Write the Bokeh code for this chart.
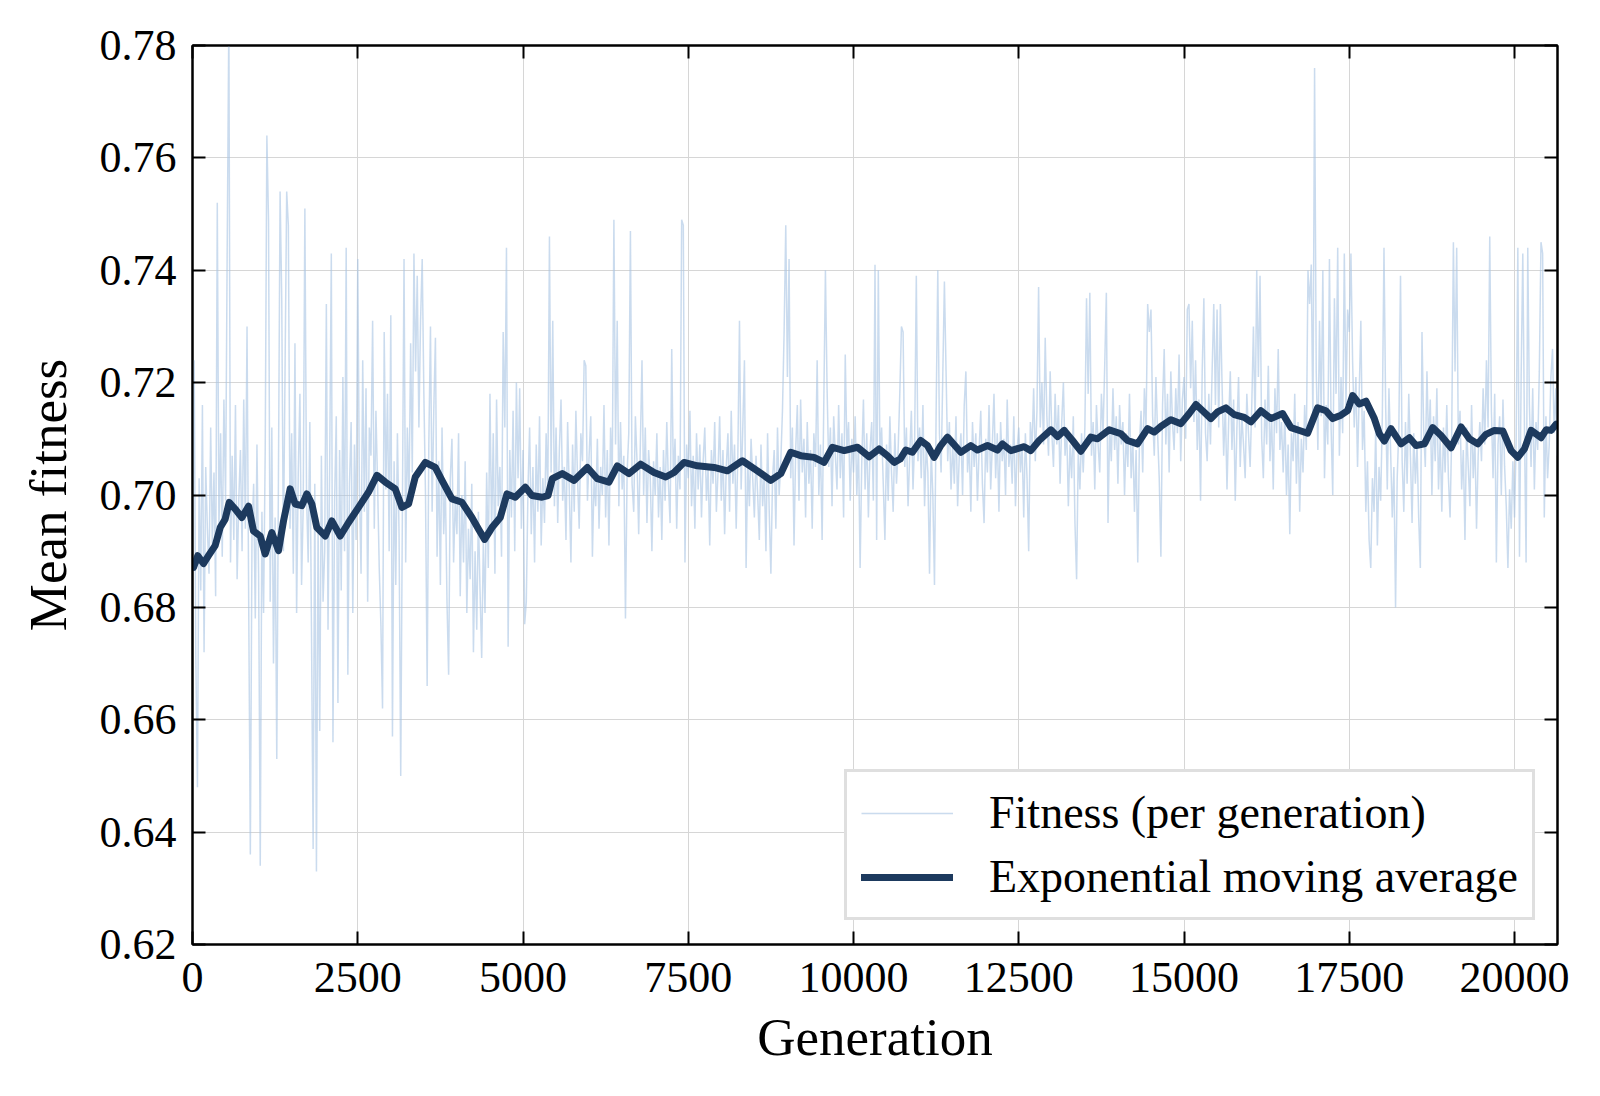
from bokeh.plotting import figure
from bokeh.models import (ColumnDataSource, FixedTicker, LinearAxis, Legend,
                          LegendItem, Range1d, CustomJSTickFormatter)
from bokeh.embed import file_html
from bokeh.resources import INLINE

# Mean fitness per generation, sampled every 25 generations (rows of 500 generations)
GEN_STEP = 25
fitness = [
    0.690, 0.724, 0.671, 0.648, 0.703, 0.683, 0.716, 0.672, 0.705, 0.694, 0.686, 0.712, 0.691, 0.704, 0.682, 0.752, 0.694, 0.711, 0.689, 0.717,
    0.699, 0.744, 0.785, 0.688, 0.707, 0.692, 0.716, 0.685, 0.699, 0.708, 0.690, 0.717, 0.694, 0.730, 0.681, 0.636, 0.693, 0.702, 0.678, 0.709,
    0.686, 0.634, 0.697, 0.679, 0.708, 0.764, 0.749, 0.681, 0.712, 0.670, 0.696, 0.653, 0.703, 0.754, 0.735, 0.690, 0.722, 0.754, 0.748, 0.694,
    0.711, 0.686, 0.727, 0.679, 0.704, 0.718, 0.684, 0.698, 0.751, 0.700, 0.688, 0.713, 0.676, 0.637, 0.702, 0.633, 0.695, 0.658, 0.707, 0.681,
    0.690, 0.734, 0.676, 0.705, 0.743, 0.656, 0.699, 0.714, 0.663, 0.708, 0.683, 0.721, 0.690, 0.744, 0.668, 0.702, 0.713, 0.679, 0.709, 0.692,
    0.742, 0.701, 0.686, 0.724, 0.697, 0.719, 0.681, 0.712, 0.707, 0.731, 0.694, 0.715, 0.702, 0.687, 0.677, 0.662, 0.729, 0.701, 0.718, 0.690,
    0.732, 0.657, 0.706, 0.684, 0.711, 0.693, 0.650, 0.697, 0.742, 0.688, 0.712, 0.699, 0.727, 0.704, 0.743, 0.722, 0.739, 0.712, 0.731, 0.742,
    0.718, 0.700, 0.666, 0.709, 0.730, 0.697, 0.715, 0.728, 0.689, 0.706, 0.684, 0.712, 0.693, 0.702, 0.681, 0.668, 0.703, 0.710, 0.688, 0.699,
    0.693, 0.711, 0.682, 0.700, 0.688, 0.706, 0.679, 0.694, 0.685, 0.702, 0.672, 0.690, 0.676, 0.697, 0.683, 0.671, 0.692, 0.679, 0.704, 0.687,
    0.718, 0.693, 0.711, 0.686, 0.717, 0.698, 0.705, 0.689, 0.729, 0.712, 0.744, 0.673, 0.708, 0.696, 0.715, 0.690, 0.720, 0.703, 0.719, 0.694,
    0.708, 0.677, 0.681, 0.701, 0.712, 0.693, 0.705, 0.688, 0.709, 0.697, 0.714, 0.691, 0.703, 0.695, 0.711, 0.700, 0.746, 0.704, 0.731, 0.698,
    0.712, 0.695, 0.708, 0.717, 0.699, 0.705, 0.692, 0.713, 0.701, 0.688, 0.709, 0.697, 0.715, 0.703, 0.694, 0.711, 0.706, 0.724, 0.723, 0.699,
    0.707, 0.714, 0.689, 0.703, 0.698, 0.710, 0.694, 0.705, 0.700, 0.716, 0.696, 0.708, 0.691, 0.712, 0.703, 0.749, 0.709, 0.731, 0.698, 0.713,
    0.701, 0.707, 0.678, 0.704, 0.711, 0.747, 0.702, 0.697, 0.714, 0.706, 0.693, 0.709, 0.724, 0.700, 0.712, 0.695, 0.708, 0.703, 0.690, 0.706,
    0.700, 0.711, 0.696, 0.705, 0.692, 0.708, 0.699, 0.713, 0.702, 0.695, 0.726, 0.703, 0.710, 0.694, 0.707, 0.701, 0.749, 0.748, 0.688, 0.709,
    0.703, 0.715, 0.698, 0.707, 0.694, 0.711, 0.701, 0.709, 0.696, 0.706, 0.712, 0.699, 0.705, 0.691, 0.708, 0.702, 0.713, 0.697, 0.704, 0.714,
    0.699, 0.708, 0.693, 0.705, 0.711, 0.697, 0.715, 0.702, 0.709, 0.694, 0.707, 0.731, 0.701, 0.712, 0.724, 0.687, 0.706, 0.698, 0.710, 0.703,
    0.696, 0.707, 0.700, 0.692, 0.709, 0.698, 0.704, 0.690, 0.711, 0.697, 0.686, 0.703, 0.708, 0.694, 0.712, 0.700, 0.706, 0.715, 0.729, 0.748,
    0.721, 0.742, 0.703, 0.712, 0.691, 0.708, 0.716, 0.699, 0.717, 0.704, 0.710, 0.696, 0.713, 0.702, 0.708, 0.694, 0.711, 0.705, 0.724, 0.700,
    0.709, 0.692, 0.716, 0.740, 0.719, 0.705, 0.712, 0.698, 0.714, 0.707, 0.701, 0.716, 0.703, 0.711, 0.696, 0.725, 0.708, 0.713, 0.699, 0.710,
    0.704, 0.714, 0.700, 0.709, 0.687, 0.706, 0.717, 0.701, 0.711, 0.696, 0.708, 0.713, 0.699, 0.741, 0.692, 0.740, 0.707, 0.712, 0.702, 0.692,
    0.709, 0.699, 0.714, 0.704, 0.697, 0.711, 0.702, 0.708, 0.718, 0.730, 0.729, 0.705, 0.712, 0.698, 0.707, 0.715, 0.701, 0.710, 0.739, 0.706,
    0.712, 0.703, 0.716, 0.698, 0.709, 0.704, 0.686, 0.708, 0.700, 0.684, 0.715, 0.740, 0.711, 0.704, 0.721, 0.738, 0.722, 0.706, 0.713, 0.701,
    0.709, 0.702, 0.714, 0.698, 0.707, 0.711, 0.700, 0.716, 0.722, 0.704, 0.709, 0.697, 0.713, 0.705, 0.711, 0.699, 0.708, 0.715, 0.702, 0.695,
    0.710, 0.704, 0.716, 0.701, 0.709, 0.718, 0.703, 0.711, 0.697, 0.713, 0.706, 0.710, 0.700, 0.717, 0.705, 0.709, 0.702, 0.714, 0.698, 0.708,
    0.712, 0.704, 0.709, 0.696, 0.711, 0.703, 0.690, 0.713, 0.708, 0.719, 0.706, 0.715, 0.737, 0.712, 0.720, 0.709, 0.728, 0.714, 0.707, 0.722,
    0.711, 0.705, 0.718, 0.709, 0.716, 0.702, 0.713, 0.720, 0.707, 0.712, 0.698, 0.709, 0.703, 0.714, 0.695, 0.685, 0.708, 0.701, 0.711, 0.704,
    0.712, 0.735, 0.718, 0.736, 0.707, 0.713, 0.701, 0.716, 0.709, 0.704, 0.718, 0.711, 0.723, 0.736, 0.695, 0.712, 0.706, 0.719, 0.708, 0.714,
    0.702, 0.716, 0.709, 0.713, 0.700, 0.711, 0.705, 0.718, 0.703, 0.710, 0.697, 0.708, 0.688, 0.709, 0.715, 0.704, 0.719, 0.712, 0.734, 0.729,
    0.733, 0.714, 0.707, 0.721, 0.711, 0.703, 0.689, 0.716, 0.726, 0.709, 0.718, 0.704, 0.722, 0.713, 0.708, 0.719, 0.711, 0.725, 0.706, 0.717,
    0.721, 0.710, 0.733, 0.734, 0.719, 0.731, 0.713, 0.724, 0.708, 0.717, 0.699, 0.722, 0.735, 0.711, 0.706, 0.718, 0.709, 0.722, 0.734, 0.716,
    0.733, 0.712, 0.734, 0.720, 0.707, 0.716, 0.701, 0.713, 0.722, 0.708, 0.717, 0.699, 0.712, 0.721, 0.705, 0.714, 0.709, 0.703, 0.718, 0.711,
    0.705, 0.716, 0.730, 0.712, 0.740, 0.721, 0.739, 0.710, 0.703, 0.717, 0.709, 0.723, 0.706, 0.714, 0.701, 0.719, 0.711, 0.726, 0.708, 0.713,
    0.704, 0.715, 0.700, 0.709, 0.693, 0.711, 0.706, 0.718, 0.702, 0.713, 0.697, 0.710, 0.704, 0.716, 0.708, 0.740, 0.734, 0.741, 0.712, 0.776,
    0.722, 0.708, 0.731, 0.714, 0.740, 0.703, 0.716, 0.709, 0.742, 0.712, 0.700, 0.735, 0.718, 0.744, 0.707, 0.721, 0.711, 0.743, 0.716, 0.733,
    0.729, 0.743, 0.724, 0.712, 0.721, 0.705, 0.718, 0.731, 0.708, 0.715, 0.697, 0.706, 0.692, 0.687, 0.703, 0.697, 0.712, 0.691, 0.705, 0.699,
    0.714, 0.744, 0.716, 0.701, 0.719, 0.708, 0.696, 0.705, 0.680, 0.703, 0.712, 0.739, 0.706, 0.697, 0.713, 0.702, 0.718, 0.707, 0.695, 0.711,
    0.702, 0.709, 0.696, 0.687, 0.729, 0.712, 0.705, 0.722, 0.709, 0.717, 0.700, 0.714, 0.706, 0.719, 0.701, 0.710, 0.697, 0.712, 0.704, 0.716,
    0.703, 0.696, 0.711, 0.745, 0.722, 0.744, 0.709, 0.715, 0.701, 0.708, 0.692, 0.712, 0.705, 0.698, 0.716, 0.703, 0.710, 0.694, 0.707, 0.713,
    0.706, 0.719, 0.709, 0.724, 0.712, 0.746, 0.715, 0.703, 0.718, 0.688, 0.709, 0.714, 0.700, 0.717, 0.705, 0.698, 0.687, 0.701, 0.694, 0.706,
    0.696, 0.710, 0.744, 0.689, 0.721, 0.743, 0.712, 0.688, 0.744, 0.716, 0.705, 0.719, 0.701, 0.713, 0.708, 0.722, 0.745, 0.743, 0.696, 0.714,
    0.703, 0.709, 0.721, 0.726, 0.711, 0.719, 0.707,
]
generation = [i * GEN_STEP for i in range(len(fitness))]

# Exponential moving average of the fitness
ema_generation = [
    15, 80, 166, 242, 343, 419, 494, 555, 646, 747, 848, 923, 1024, 1100, 1200, 1301, 1377, 1478,
    1553, 1654, 1730, 1806, 1881, 2008, 2108, 2235, 2361, 2512, 2663, 2790, 2916, 3067, 3168, 3269,
    3370, 3521, 3673, 3774, 3925, 4076, 4227, 4328, 4419, 4530, 4656, 4757, 4883, 5035, 5136, 5287,
    5378, 5444, 5594, 5771, 5973, 6124, 6300, 6427, 6603, 6780, 6982, 7159, 7285, 7436, 7638, 7890,
    8092, 8319, 8546, 8748, 8899, 9050, 9202, 9403, 9555, 9681, 9858, 10060, 10236, 10387, 10514,
    10615, 10706, 10790, 10891, 11017, 11118, 11219, 11320, 11421, 11623, 11774, 11875, 12027, 12178,
    12253, 12380, 12581, 12682, 12808, 12985, 13086, 13187, 13313, 13439, 13591, 13691, 13868, 14045,
    14146, 14297, 14448, 14549, 14650, 14802, 14953, 15079, 15180, 15281, 15407, 15507, 15634, 15760,
    15911, 16012, 16163, 16315, 16491, 16617, 16769, 16870, 17021, 17147, 17248, 17374, 17475, 17551,
    17652, 17753, 17879, 17955, 18030, 18131, 18283, 18409, 18510, 18636, 18762, 18888, 19040, 19191,
    19317, 19443, 19569, 19695, 19822, 19948, 20049, 20150, 20251, 20402, 20478, 20553, 20629,
]
ema_fitness = [
    0.6871, 0.6892, 0.6878, 0.6892, 0.6910, 0.6942, 0.6957, 0.6987, 0.6975, 0.6960, 0.6980, 0.6936,
    0.6927, 0.6895, 0.6933, 0.6901, 0.6954, 0.7011, 0.6984, 0.6981, 0.7002, 0.6984, 0.6942, 0.6927,
    0.6954, 0.6927, 0.6951, 0.6978, 0.7005, 0.7035, 0.7023, 0.7011, 0.6978, 0.6984, 0.7032, 0.7058,
    0.7049, 0.7026, 0.6993, 0.6987, 0.6960, 0.6939, 0.6921, 0.6942, 0.6960, 0.7002, 0.6996, 0.7014,
    0.6999, 0.6996, 0.6999, 0.7029, 0.7038, 0.7026, 0.7049, 0.7029, 0.7023, 0.7052, 0.7038, 0.7055,
    0.7040, 0.7032, 0.7040, 0.7058, 0.7052, 0.7049, 0.7043, 0.7061, 0.7043, 0.7026, 0.7038, 0.7076,
    0.7070, 0.7067, 0.7058, 0.7085, 0.7079, 0.7085, 0.7068, 0.7082, 0.7070, 0.7058, 0.7064, 0.7080,
    0.7076, 0.7097, 0.7088, 0.7067, 0.7088, 0.7103, 0.7076, 0.7088, 0.7080, 0.7088, 0.7080, 0.7091,
    0.7079, 0.7086, 0.7079, 0.7097, 0.7116, 0.7104, 0.7115, 0.7097, 0.7078, 0.7103, 0.7100, 0.7116,
    0.7109, 0.7097, 0.7091, 0.7118, 0.7112, 0.7122, 0.7134, 0.7127, 0.7145, 0.7161, 0.7150, 0.7136,
    0.7148, 0.7155, 0.7143, 0.7138, 0.7130, 0.7150, 0.7136, 0.7145, 0.7120, 0.7114, 0.7110, 0.7155,
    0.7150, 0.7136, 0.7142, 0.7150, 0.7177, 0.7162, 0.7167, 0.7136, 0.7109, 0.7096, 0.7118, 0.7091,
    0.7102, 0.7088, 0.7091, 0.7120, 0.7106, 0.7084, 0.7121, 0.7100, 0.7091, 0.7108, 0.7115, 0.7114,
    0.7079, 0.7067, 0.7082, 0.7115, 0.7102, 0.7116, 0.7115, 0.7126,
]

x_ticks = [0, 2500, 5000, 7500, 10000, 12500, 15000, 17500, 20000]
y_ticks = [0.62, 0.64, 0.66, 0.68, 0.70, 0.72, 0.74, 0.76, 0.78]

SERIF = "Liberation Serif"
RAW_COLOR = "#a9c5e3"
EMA_COLOR = "#1d3a5e"

p = figure(
    width=1600, height=1096,
    output_backend="svg", toolbar_location=None,
    x_range=Range1d(0, 20650), y_range=Range1d(0.62, 0.78),
    min_border_left=192, min_border_right=43, min_border_top=45, min_border_bottom=152,
    x_axis_label="Generation", y_axis_label="Mean fitness",
)
p.background_fill_color = "white"
p.border_fill_color = "white"
p.outline_line_color = "black"
p.outline_line_width = 2

bottom_axis = p.below[0]
left_axis = p.left[0]

raw_src = ColumnDataSource(dict(generation=generation, fitness=fitness))
ema_src = ColumnDataSource(dict(generation=ema_generation, fitness=ema_fitness))

r_raw = p.line("generation", "fitness", source=raw_src, line_color=RAW_COLOR,
               line_alpha=0.62, line_width=1.5)
r_ema = p.line("generation", "fitness", source=ema_src, line_color=EMA_COLOR,
               line_width=7, line_join="round", line_cap="round")

bottom_axis.ticker = FixedTicker(ticks=x_ticks)
left_axis.ticker = FixedTicker(ticks=y_ticks)
left_axis.formatter = CustomJSTickFormatter(code="return tick.toFixed(2);")

# mirrored axes on the top and right, ticks only
top_axis = LinearAxis(ticker=FixedTicker(ticks=x_ticks))
right_axis = LinearAxis(ticker=FixedTicker(ticks=y_ticks))
p.add_layout(top_axis, "above")
p.add_layout(right_axis, "right")

for ax in [bottom_axis, left_axis, top_axis, right_axis]:
    ax.axis_line_color = "black"
    ax.axis_line_width = 2
    ax.major_tick_line_color = "black"
    ax.major_tick_line_width = 2
    ax.major_tick_in = 13
    ax.major_tick_out = 0
    ax.minor_tick_line_color = None
    ax.major_label_text_font = SERIF
    ax.major_label_text_font_size = "44px"
    ax.major_label_text_color = "black"
    ax.axis_label_text_font = SERIF
    ax.axis_label_text_font_size = "53px"
    ax.axis_label_text_font_style = "normal"
    ax.axis_label_text_color = "black"

for ax in [top_axis, right_axis]:
    ax.major_label_text_font_size = "0px"
    ax.major_label_text_alpha = 0

bottom_axis.major_label_standoff = 18
bottom_axis.axis_label_standoff = 13
left_axis.major_label_standoff = 16
left_axis.axis_label_standoff = 20

p.xgrid.ticker = FixedTicker(ticks=x_ticks)
p.ygrid.ticker = FixedTicker(ticks=y_ticks)
p.grid.grid_line_color = "#d6d6d6"
p.grid.grid_line_width = 1

legend = Legend(
    items=[
        LegendItem(label="Fitness (per generation)", renderers=[r_raw]),
        LegendItem(label="Exponential moving average", renderers=[r_ema]),
    ],
    location=(652, 24),
    label_text_font=SERIF,
    label_text_font_size="46px",
    label_text_color="black",
    glyph_width=92,
    glyph_height=40,
    label_height=40,
    label_standoff=36,
    spacing=11,
    padding=14,
    margin=0,
    border_line_color="#c0c0c0",
    border_line_width=3,
    background_fill_color="white",
    background_fill_alpha=1.0,
)
p.add_layout(legend, "center")

open("out.html", "w").write(file_html(p, INLINE))
